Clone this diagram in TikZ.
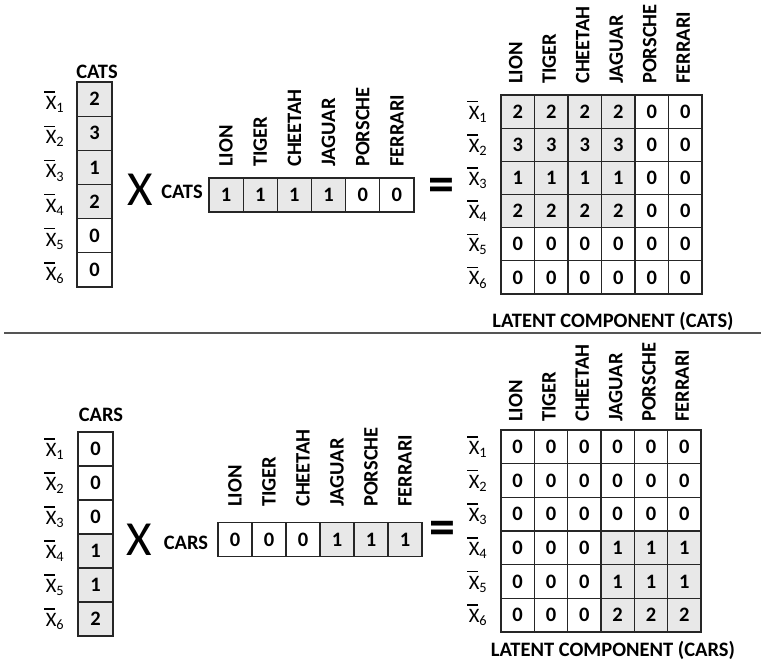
\documentclass[tikz,border=0pt]{standalone}
\usepackage{fontspec}
\setmainfont{Carlito}
\definecolor{cg}{HTML}{E8E8E8}
\definecolor{cw}{HTML}{FFFFFF}
\definecolor{sepc}{HTML}{555555}
\newcommand\xbar[1]{\makebox[0pt][l]{\kern-0.08em\raisebox{0.82em}{\rule{0.55em}{0.07em}}}X\textsubscript{#1}}
\tikzset{
  cell/.style={draw=black!85, line width=1.1pt, inner sep=0pt, font=\bfseries\fontsize{20.5}{20.5}\selectfont},
  hdr/.style={rotate=90, anchor=west, inner sep=1pt, font=\bfseries\fontsize{20.5}{20.5}\selectfont},
  rlab/.style={inner sep=0pt, font=\fontsize{20.5}{20.5}\selectfont},
  ttl/.style={inner sep=0pt, font=\bfseries\fontsize{20.5}{20.5}\selectfont},
  bigx/.style={inner sep=0pt, font=\fontsize{49}{49}\selectfont},
  eqs/.style={inner sep=0pt, font=\bfseries\fontsize{52}{52}\selectfont},
}
\begin{document}
\begin{tikzpicture}[x=1pt,y=-1pt]
\useasboundingbox (0,0) rectangle (761,670);
% ================= TOP (CATS) =================
\node[ttl] (tcol-t) at (97,72) {CATS};
\foreach \v/\f [count=\i] in {2/cg,3/cg,1/cg,2/cg,0/cw,0/cw} {
  \pgfmathsetmacro\yy{82+34.17*(\i-0.5)}
  \node[cell, fill=\f, minimum width=35pt, minimum height=34.17pt] (tc-\i) at (94.5,\yy) {\v};
  \node[rlab] (tl-\i) at (55,\yy+3) {\xbar{\i}};
}
\node[bigx] (tx) at (140,190) {X};
\node[ttl] (trow-t) at (182,192) {CATS};
\foreach \v/\f [count=\j] in {1/cg,1/cg,1/cg,1/cg,0/cw,0/cw} {
  \pgfmathsetmacro\xx{209+34.17*(\j-0.5)}
  \node[cell, fill=\f, minimum width=34.17pt, minimum height=34pt] (tr-\j) at (\xx,195) {\v};
}
\foreach \t [count=\j] in {LION,TIGER,CHEETAH,JAGUAR,PORSCHE,FERRARI} {
  \pgfmathsetmacro\xx{209+34.17*(\j-0.5)}
  \node[hdr] (trh-\j) at (\xx,168) {\t};
}
\node[eqs] (teq) at (441,190) {=};
\foreach \row [count=\i] in {{2/cg,2/cg,2/cg,2/cg,0/cw,0/cw},{3/cg,3/cg,3/cg,3/cg,0/cw,0/cw},{1/cg,1/cg,1/cg,1/cg,0/cw,0/cw},{2/cg,2/cg,2/cg,2/cg,0/cw,0/cw},{0/cw,0/cw,0/cw,0/cw,0/cw,0/cw},{0/cw,0/cw,0/cw,0/cw,0/cw,0/cw}} {
  \pgfmathsetmacro\yy{95+33.17*(\i-0.5)}
  \foreach \v/\f [count=\j] in \row {
    \pgfmathsetmacro\xx{501+33.5*(\j-0.5)}
    \node[cell, fill=\f, minimum width=33.5pt, minimum height=33.17pt] (tm-\i-\j) at (\xx,\yy) {\v};
  }
  \node[rlab] (tml-\i) at (478,\yy) {\xbar{\i}};
}
\foreach \t [count=\j] in {LION,TIGER,CHEETAH,JAGUAR,PORSCHE,FERRARI} {
  \pgfmathsetmacro\xx{501+33.5*(\j-0.5)-2}
  \node[hdr] (tmh-\j) at (\xx,85) {\t};
}
\node[ttl] (tlat) at (613,321) {LATENT COMPONENT (CATS)};
% separator
\coordinate (sepL) at (4,333);
\coordinate (sepR) at (761,333);
\draw[sepc, line width=1.6pt] (sepL) -- (sepR);
% ================= BOTTOM (CARS) =================
\node[ttl] (bcol-t) at (101,415) {CARS};
\foreach \v/\f [count=\i] in {0/cw,0/cw,0/cw,1/cg,1/cg,2/cg} {
  \pgfmathsetmacro\yy{432+34*(\i-0.5)}
  \node[cell, fill=\f, minimum width=35pt, minimum height=34pt] (bc-\i) at (95.5,\yy) {\v};
  \node[rlab] (bl-\i) at (55,\yy) {\xbar{\i}};
}
\node[bigx] (bx) at (139,540) {X};
\node[ttl] (brow-t) at (186,543) {CARS};
\foreach \v/\f [count=\j] in {0/cw,0/cw,0/cw,1/cg,1/cg,1/cg} {
  \pgfmathsetmacro\xx{218+34*(\j-0.5)}
  \node[cell, fill=\f, minimum width=34pt, minimum height=33.5pt] (br-\j) at (\xx,539.5) {\v};
}
\foreach \t [count=\j] in {LION,TIGER,CHEETAH,JAGUAR,PORSCHE,FERRARI} {
  \pgfmathsetmacro\xx{218+34*(\j-0.5)}
  \node[hdr] (brh-\j) at (\xx,508) {\t};
}
\node[eqs] (beq) at (442,533) {=};
\foreach \row [count=\i] in {{0/cw,0/cw,0/cw,0/cw,0/cw,0/cw},{0/cw,0/cw,0/cw,0/cw,0/cw,0/cw},{0/cw,0/cw,0/cw,0/cw,0/cw,0/cw},{0/cw,0/cw,0/cw,1/cg,1/cg,1/cg},{0/cw,0/cw,0/cw,1/cg,1/cg,1/cg},{0/cw,0/cw,0/cw,2/cg,2/cg,2/cg}} {
  \pgfmathsetmacro\yy{430+33.67*(\i-0.5)}
  \foreach \v/\f [count=\j] in \row {
    \pgfmathsetmacro\xx{501+33.33*(\j-0.5)}
    \node[cell, fill=\f, minimum width=33.33pt, minimum height=33.67pt] (bm-\i-\j) at (\xx,\yy) {\v};
  }
  \node[rlab] (bml-\i) at (478,\yy) {\xbar{\i}};
}
\foreach \t [count=\j] in {LION,TIGER,CHEETAH,JAGUAR,PORSCHE,FERRARI} {
  \pgfmathsetmacro\xx{501+33.33*(\j-0.5)-2}
  \node[hdr] (bmh-\j) at (\xx,423) {\t};
}
\node[ttl] (blat) at (613,650) {LATENT COMPONENT (CARS)};
\end{tikzpicture}
\end{document}
